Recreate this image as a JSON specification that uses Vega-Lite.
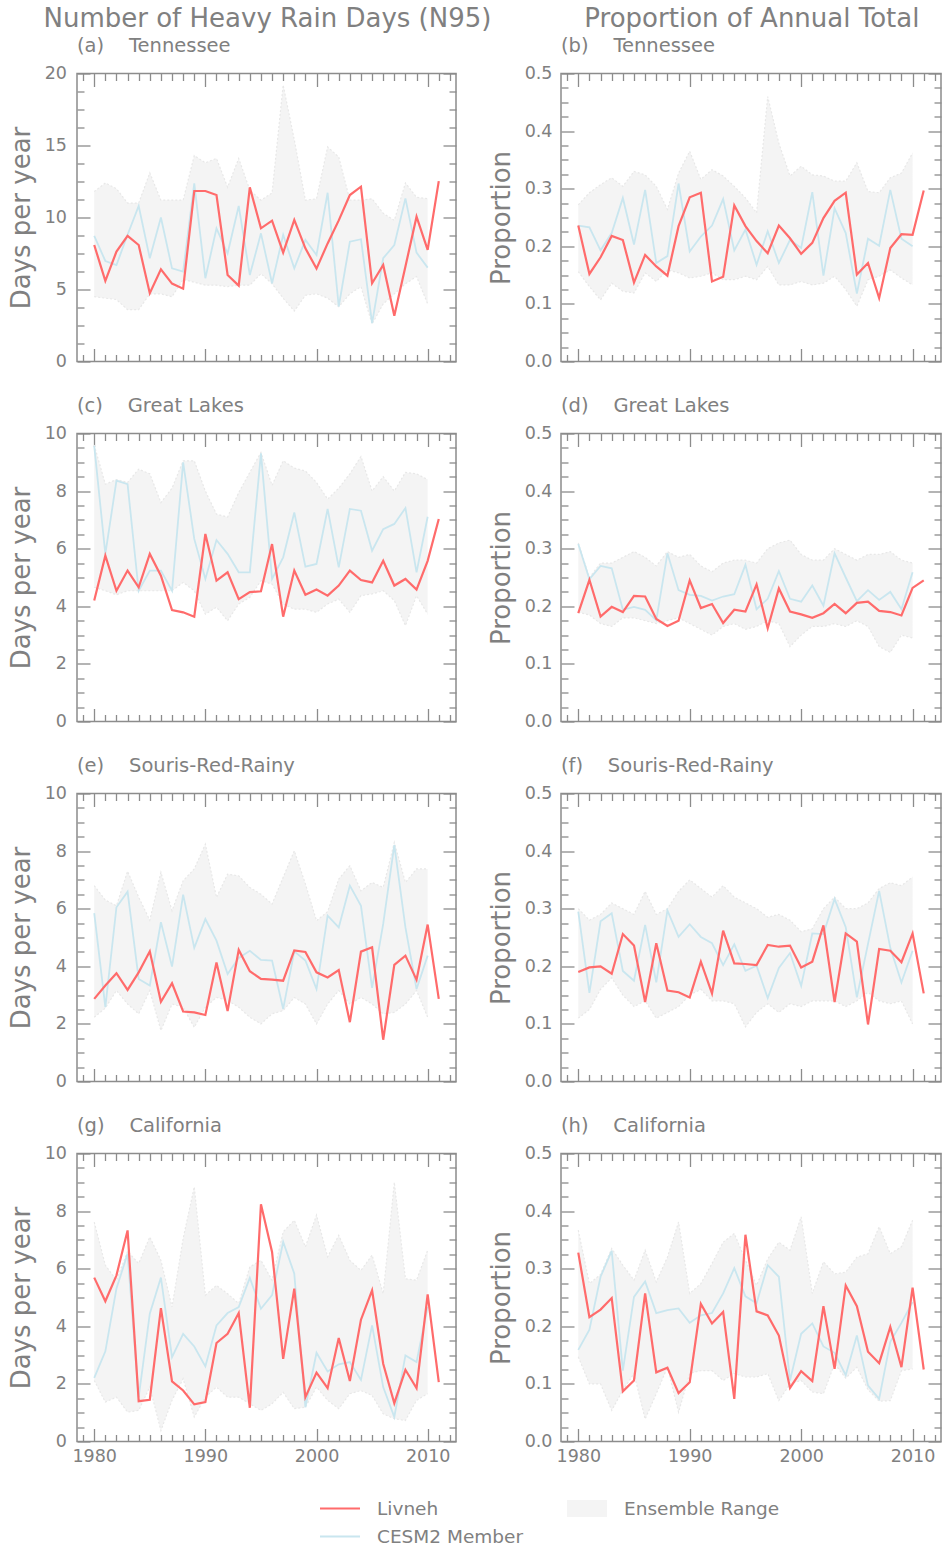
{
"$schema": "https://vega.github.io/schema/vega-lite/v6.json",
"padding": {"left": 7, "top": 5.5, "right": 0, "bottom": 0},
"config": {
  "font": "DejaVu Sans",
  "view": {"stroke": "#8c8c8c", "strokeWidth": 1.5},
  "axis": {"grid": false, "domain": false, "labelColor": "#808080", "titleColor": "#808080", "tickColor": "#8c8c8c", "tickWidth": 1.3, "labelFontSize": 17.5, "titleFontSize": 26, "titleFontWeight": "normal", "labelFlush": false, "labelOverlap": false, "zindex": 1}
},
"datasets": {
"a": [
{"yr":1980,"liv":8.09,"cesm":8.72,"lo":4.5,"hi":11.8},{"yr":1981,"liv":5.6,"cesm":6.98,"lo":4.4,"hi":12.4},{"yr":1982,"liv":7.63,"cesm":6.7,"lo":4.3,"hi":12.0},{"yr":1983,"liv":8.72,"cesm":8.8,"lo":3.6,"hi":11.0},{"yr":1984,"liv":8.09,"cesm":10.8,"lo":3.6,"hi":11.0},{"yr":1985,"liv":4.74,"cesm":7.17,"lo":4.7,"hi":13.1},{"yr":1986,"liv":6.4,"cesm":10.0,"lo":4.7,"hi":11.2},{"yr":1987,"liv":5.41,"cesm":6.47,"lo":4.5,"hi":11.2},{"yr":1988,"liv":5.06,"cesm":6.24,"lo":5.7,"hi":11.2},{"yr":1989,"liv":11.84,"cesm":12.37,"lo":5.5,"hi":14.3},{"yr":1990,"liv":11.84,"cesm":5.78,"lo":5.3,"hi":13.8},{"yr":1991,"liv":11.56,"cesm":9.25,"lo":5.3,"hi":14.1},{"yr":1992,"liv":6.01,"cesm":7.5,"lo":5.2,"hi":12.1},{"yr":1993,"liv":5.27,"cesm":10.8,"lo":5.3,"hi":14.1},{"yr":1994,"liv":12.09,"cesm":6.0,"lo":5.3,"hi":11.9},{"yr":1995,"liv":9.25,"cesm":8.9,"lo":6.1,"hi":11.2},{"yr":1996,"liv":9.78,"cesm":5.43,"lo":5.4,"hi":11.7},{"yr":1997,"liv":7.56,"cesm":8.8,"lo":4.4,"hi":19.2},{"yr":1998,"liv":9.83,"cesm":6.47,"lo":3.5,"hi":15.4},{"yr":1999,"liv":7.86,"cesm":8.44,"lo":4.6,"hi":11.2},{"yr":2000,"liv":6.45,"cesm":7.4,"lo":4.7,"hi":11.3},{"yr":2001,"liv":8.2,"cesm":11.72,"lo":4.4,"hi":14.9},{"yr":2002,"liv":9.8,"cesm":3.82,"lo":3.8,"hi":14.2},{"yr":2003,"liv":11.56,"cesm":8.32,"lo":4.7,"hi":11.2},{"yr":2004,"liv":12.14,"cesm":8.49,"lo":5.2,"hi":11.2},{"yr":2005,"liv":5.43,"cesm":2.66,"lo":2.6,"hi":11.3},{"yr":2006,"liv":6.7,"cesm":7.17,"lo":4.0,"hi":10.3},{"yr":2007,"liv":3.17,"cesm":8.09,"lo":4.7,"hi":9.8},{"yr":2008,"liv":6.6,"cesm":11.33,"lo":5.4,"hi":12.4},{"yr":2009,"liv":10.06,"cesm":7.56,"lo":5.9,"hi":11.4},{"yr":2010,"liv":7.75,"cesm":6.52,"lo":4.0,"hi":11.3},{"yr":2011,"liv":12.53}
],
"b": [
{"yr":1980,"liv":0.236,"cesm":0.236,"lo":0.156,"hi":0.272},{"yr":1981,"liv":0.152,"cesm":0.233,"lo":0.13,"hi":0.293},{"yr":1982,"liv":0.181,"cesm":0.193,"lo":0.107,"hi":0.307},{"yr":1983,"liv":0.218,"cesm":0.223,"lo":0.136,"hi":0.319},{"yr":1984,"liv":0.211,"cesm":0.284,"lo":0.122,"hi":0.304},{"yr":1985,"liv":0.137,"cesm":0.203,"lo":0.119,"hi":0.33},{"yr":1986,"liv":0.185,"cesm":0.298,"lo":0.154,"hi":0.324},{"yr":1987,"liv":0.165,"cesm":0.171,"lo":0.139,"hi":0.304},{"yr":1988,"liv":0.149,"cesm":0.183,"lo":0.159,"hi":0.264},{"yr":1989,"liv":0.235,"cesm":0.309,"lo":0.154,"hi":0.327},{"yr":1990,"liv":0.285,"cesm":0.191,"lo":0.145,"hi":0.365},{"yr":1991,"liv":0.293,"cesm":0.217,"lo":0.148,"hi":0.316},{"yr":1992,"liv":0.139,"cesm":0.236,"lo":0.154,"hi":0.333},{"yr":1993,"liv":0.147,"cesm":0.282,"lo":0.142,"hi":0.322},{"yr":1994,"liv":0.271,"cesm":0.193,"lo":0.142,"hi":0.304},{"yr":1995,"liv":0.235,"cesm":0.229,"lo":0.148,"hi":0.284},{"yr":1996,"liv":0.209,"cesm":0.168,"lo":0.142,"hi":0.258},{"yr":1997,"liv":0.188,"cesm":0.226,"lo":0.165,"hi":0.46},{"yr":1998,"liv":0.236,"cesm":0.171,"lo":0.133,"hi":0.379},{"yr":1999,"liv":0.214,"cesm":0.211,"lo":0.133,"hi":0.322},{"yr":2000,"liv":0.187,"cesm":0.197,"lo":0.139,"hi":0.339},{"yr":2001,"liv":0.206,"cesm":0.294,"lo":0.133,"hi":0.324},{"yr":2002,"liv":0.249,"cesm":0.149,"lo":0.136,"hi":0.322},{"yr":2003,"liv":0.279,"cesm":0.266,"lo":0.148,"hi":0.313},{"yr":2004,"liv":0.293,"cesm":0.223,"lo":0.125,"hi":0.313},{"yr":2005,"liv":0.151,"cesm":0.118,"lo":0.096,"hi":0.345},{"yr":2006,"liv":0.171,"cesm":0.213,"lo":0.142,"hi":0.295},{"yr":2007,"liv":0.11,"cesm":0.201,"lo":0.148,"hi":0.293},{"yr":2008,"liv":0.197,"cesm":0.298,"lo":0.159,"hi":0.319},{"yr":2009,"liv":0.221,"cesm":0.213,"lo":0.145,"hi":0.327},{"yr":2010,"liv":0.22,"cesm":0.2,"lo":0.133,"hi":0.362},{"yr":2011,"liv":0.297}
],
"c": [
{"yr":1980,"liv":4.2,"cesm":9.57,"lo":4.66,"hi":9.6},{"yr":1981,"liv":5.76,"cesm":5.82,"lo":4.54,"hi":8.24},{"yr":1982,"liv":4.54,"cesm":8.36,"lo":4.4,"hi":8.4},{"yr":1983,"liv":5.24,"cesm":8.24,"lo":4.54,"hi":8.3},{"yr":1984,"liv":4.66,"cesm":4.54,"lo":4.54,"hi":8.76},{"yr":1985,"liv":5.82,"cesm":5.24,"lo":4.54,"hi":8.6},{"yr":1986,"liv":5.06,"cesm":5.24,"lo":4.54,"hi":7.6},{"yr":1987,"liv":3.87,"cesm":4.54,"lo":4.54,"hi":8.1},{"yr":1988,"liv":3.79,"cesm":9.0,"lo":4.83,"hi":9.05},{"yr":1989,"liv":3.64,"cesm":6.34,"lo":4.54,"hi":9.05},{"yr":1990,"liv":6.51,"cesm":4.95,"lo":3.73,"hi":8.0},{"yr":1991,"liv":4.89,"cesm":6.3,"lo":3.97,"hi":7.2},{"yr":1992,"liv":5.18,"cesm":5.82,"lo":3.5,"hi":7.1},{"yr":1993,"liv":4.25,"cesm":5.18,"lo":4.08,"hi":7.95},{"yr":1994,"liv":4.49,"cesm":5.18,"lo":4.31,"hi":8.65},{"yr":1995,"liv":4.52,"cesm":9.31,"lo":4.89,"hi":9.34},{"yr":1996,"liv":6.16,"cesm":4.95,"lo":4.77,"hi":8.2},{"yr":1997,"liv":3.64,"cesm":5.7,"lo":4.08,"hi":9.05},{"yr":1998,"liv":5.24,"cesm":7.26,"lo":3.9,"hi":8.8},{"yr":1999,"liv":4.4,"cesm":5.38,"lo":3.9,"hi":8.7},{"yr":2000,"liv":4.58,"cesm":5.47,"lo":3.79,"hi":8.3},{"yr":2001,"liv":4.37,"cesm":7.38,"lo":4.08,"hi":7.72},{"yr":2002,"liv":4.72,"cesm":5.35,"lo":4.25,"hi":8.1},{"yr":2003,"liv":5.24,"cesm":7.38,"lo":3.79,"hi":8.6},{"yr":2004,"liv":4.91,"cesm":7.32,"lo":4.37,"hi":9.2},{"yr":2005,"liv":4.83,"cesm":5.93,"lo":4.43,"hi":8.0},{"yr":2006,"liv":5.58,"cesm":6.68,"lo":4.54,"hi":8.5},{"yr":2007,"liv":4.72,"cesm":6.86,"lo":4.2,"hi":8.0},{"yr":2008,"liv":4.95,"cesm":7.41,"lo":3.33,"hi":8.65},{"yr":2009,"liv":4.58,"cesm":5.18,"lo":4.37,"hi":8.6},{"yr":2010,"liv":5.58,"cesm":7.11,"lo":3.73,"hi":8.4},{"yr":2011,"liv":7.03}
],
"d": [
{"yr":1980,"liv":0.188,"cesm":0.308,"lo":0.19,"hi":0.31},{"yr":1981,"liv":0.246,"cesm":0.247,"lo":0.185,"hi":0.25},{"yr":1982,"liv":0.182,"cesm":0.27,"lo":0.17,"hi":0.275},{"yr":1983,"liv":0.199,"cesm":0.266,"lo":0.165,"hi":0.275},{"yr":1984,"liv":0.19,"cesm":0.194,"lo":0.18,"hi":0.285},{"yr":1985,"liv":0.218,"cesm":0.199,"lo":0.18,"hi":0.295},{"yr":1986,"liv":0.217,"cesm":0.194,"lo":0.175,"hi":0.285},{"yr":1987,"liv":0.178,"cesm":0.176,"lo":0.17,"hi":0.27},{"yr":1988,"liv":0.166,"cesm":0.292,"lo":0.175,"hi":0.295},{"yr":1989,"liv":0.175,"cesm":0.228,"lo":0.18,"hi":0.285},{"yr":1990,"liv":0.245,"cesm":0.22,"lo":0.17,"hi":0.29},{"yr":1991,"liv":0.197,"cesm":0.218,"lo":0.16,"hi":0.27},{"yr":1992,"liv":0.204,"cesm":0.21,"lo":0.15,"hi":0.26},{"yr":1993,"liv":0.171,"cesm":0.217,"lo":0.165,"hi":0.275},{"yr":1994,"liv":0.194,"cesm":0.221,"lo":0.17,"hi":0.28},{"yr":1995,"liv":0.191,"cesm":0.272,"lo":0.16,"hi":0.28},{"yr":1996,"liv":0.238,"cesm":0.195,"lo":0.165,"hi":0.275},{"yr":1997,"liv":0.162,"cesm":0.213,"lo":0.175,"hi":0.3},{"yr":1998,"liv":0.231,"cesm":0.261,"lo":0.17,"hi":0.31},{"yr":1999,"liv":0.191,"cesm":0.213,"lo":0.13,"hi":0.315},{"yr":2000,"liv":0.186,"cesm":0.208,"lo":0.15,"hi":0.29},{"yr":2001,"liv":0.18,"cesm":0.236,"lo":0.165,"hi":0.28},{"yr":2002,"liv":0.188,"cesm":0.201,"lo":0.165,"hi":0.28},{"yr":2003,"liv":0.204,"cesm":0.292,"lo":0.17,"hi":0.3},{"yr":2004,"liv":0.188,"cesm":0.25,"lo":0.165,"hi":0.29},{"yr":2005,"liv":0.206,"cesm":0.209,"lo":0.175,"hi":0.28},{"yr":2006,"liv":0.208,"cesm":0.228,"lo":0.165,"hi":0.29},{"yr":2007,"liv":0.192,"cesm":0.211,"lo":0.13,"hi":0.29},{"yr":2008,"liv":0.19,"cesm":0.225,"lo":0.12,"hi":0.295},{"yr":2009,"liv":0.184,"cesm":0.195,"lo":0.15,"hi":0.28},{"yr":2010,"liv":0.232,"cesm":0.259,"lo":0.145,"hi":0.275},{"yr":2011,"liv":0.245}
],
"e": [
{"yr":1980,"liv":2.87,"cesm":5.85,"lo":2.23,"hi":6.8},{"yr":1981,"liv":3.33,"cesm":2.58,"lo":2.55,"hi":6.3},{"yr":1982,"liv":3.76,"cesm":6.05,"lo":3.16,"hi":6.1},{"yr":1983,"liv":3.18,"cesm":6.59,"lo":2.69,"hi":7.3},{"yr":1984,"liv":3.79,"cesm":3.56,"lo":2.35,"hi":6.4},{"yr":1985,"liv":4.52,"cesm":3.33,"lo":3.16,"hi":5.6},{"yr":1986,"liv":2.77,"cesm":5.53,"lo":1.77,"hi":7.26},{"yr":1987,"liv":3.41,"cesm":3.99,"lo":2.69,"hi":5.93},{"yr":1988,"liv":2.43,"cesm":6.49,"lo":2.58,"hi":6.97},{"yr":1989,"liv":2.4,"cesm":4.64,"lo":1.88,"hi":7.38},{"yr":1990,"liv":2.31,"cesm":5.64,"lo":2.58,"hi":8.24},{"yr":1991,"liv":4.13,"cesm":4.89,"lo":2.92,"hi":6.39},{"yr":1992,"liv":2.45,"cesm":3.73,"lo":2.81,"hi":7.2},{"yr":1993,"liv":4.57,"cesm":4.29,"lo":2.58,"hi":7.14},{"yr":1994,"liv":3.83,"cesm":4.54,"lo":2.23,"hi":6.74},{"yr":1995,"liv":3.56,"cesm":4.22,"lo":2.0,"hi":6.5},{"yr":1996,"liv":3.54,"cesm":4.2,"lo":2.35,"hi":6.16},{"yr":1997,"liv":3.5,"cesm":2.52,"lo":2.46,"hi":7.09},{"yr":1998,"liv":4.55,"cesm":4.52,"lo":2.92,"hi":8.01},{"yr":1999,"liv":4.5,"cesm":4.2,"lo":2.69,"hi":6.86},{"yr":2000,"liv":3.79,"cesm":3.21,"lo":2.0,"hi":5.58},{"yr":2001,"liv":3.61,"cesm":5.76,"lo":2.69,"hi":5.9},{"yr":2002,"liv":3.87,"cesm":5.35,"lo":3.16,"hi":7.03},{"yr":2003,"liv":2.06,"cesm":6.8,"lo":2.69,"hi":7.49},{"yr":2004,"liv":4.51,"cesm":6.1,"lo":2.92,"hi":6.62},{"yr":2005,"liv":4.66,"cesm":3.25,"lo":2.69,"hi":6.91},{"yr":2006,"liv":1.45,"cesm":5.47,"lo":2.35,"hi":6.74},{"yr":2007,"liv":4.05,"cesm":8.21,"lo":2.4,"hi":8.3},{"yr":2008,"liv":4.37,"cesm":5.35,"lo":2.69,"hi":6.91},{"yr":2009,"liv":3.53,"cesm":3.21,"lo":3.16,"hi":7.38},{"yr":2010,"liv":5.45,"cesm":4.37,"lo":2.23,"hi":7.38},{"yr":2011,"liv":2.87}
],
"f": [
{"yr":1980,"liv":0.19,"cesm":0.295,"lo":0.11,"hi":0.3},{"yr":1981,"liv":0.198,"cesm":0.154,"lo":0.125,"hi":0.28},{"yr":1982,"liv":0.2,"cesm":0.278,"lo":0.16,"hi":0.29},{"yr":1983,"liv":0.187,"cesm":0.292,"lo":0.18,"hi":0.31},{"yr":1984,"liv":0.256,"cesm":0.192,"lo":0.15,"hi":0.3},{"yr":1985,"liv":0.236,"cesm":0.175,"lo":0.13,"hi":0.29},{"yr":1986,"liv":0.138,"cesm":0.272,"lo":0.14,"hi":0.33},{"yr":1987,"liv":0.24,"cesm":0.172,"lo":0.11,"hi":0.29},{"yr":1988,"liv":0.158,"cesm":0.297,"lo":0.12,"hi":0.3},{"yr":1989,"liv":0.155,"cesm":0.251,"lo":0.13,"hi":0.33},{"yr":1990,"liv":0.146,"cesm":0.273,"lo":0.15,"hi":0.35},{"yr":1991,"liv":0.208,"cesm":0.251,"lo":0.16,"hi":0.335},{"yr":1992,"liv":0.153,"cesm":0.24,"lo":0.14,"hi":0.32},{"yr":1993,"liv":0.262,"cesm":0.202,"lo":0.14,"hi":0.34},{"yr":1994,"liv":0.205,"cesm":0.238,"lo":0.135,"hi":0.32},{"yr":1995,"liv":0.204,"cesm":0.192,"lo":0.095,"hi":0.31},{"yr":1996,"liv":0.202,"cesm":0.201,"lo":0.12,"hi":0.3},{"yr":1997,"liv":0.237,"cesm":0.145,"lo":0.135,"hi":0.285},{"yr":1998,"liv":0.234,"cesm":0.197,"lo":0.12,"hi":0.29},{"yr":1999,"liv":0.236,"cesm":0.223,"lo":0.135,"hi":0.28},{"yr":2000,"liv":0.198,"cesm":0.166,"lo":0.13,"hi":0.26},{"yr":2001,"liv":0.208,"cesm":0.257,"lo":0.14,"hi":0.265},{"yr":2002,"liv":0.271,"cesm":0.256,"lo":0.14,"hi":0.3},{"yr":2003,"liv":0.138,"cesm":0.317,"lo":0.14,"hi":0.32},{"yr":2004,"liv":0.257,"cesm":0.268,"lo":0.13,"hi":0.3},{"yr":2005,"liv":0.243,"cesm":0.146,"lo":0.14,"hi":0.3},{"yr":2006,"liv":0.099,"cesm":0.239,"lo":0.155,"hi":0.31},{"yr":2007,"liv":0.23,"cesm":0.331,"lo":0.14,"hi":0.335},{"yr":2008,"liv":0.227,"cesm":0.232,"lo":0.135,"hi":0.345},{"yr":2009,"liv":0.207,"cesm":0.172,"lo":0.14,"hi":0.34},{"yr":2010,"liv":0.257,"cesm":0.227,"lo":0.1,"hi":0.355},{"yr":2011,"liv":0.153}
],
"g": [
{"yr":1980,"liv":5.69,"cesm":2.21,"lo":2.12,"hi":7.62},{"yr":1981,"liv":4.87,"cesm":3.13,"lo":1.37,"hi":6.12},{"yr":1982,"liv":5.77,"cesm":5.31,"lo":1.54,"hi":5.6},{"yr":1983,"liv":7.33,"cesm":6.52,"lo":1.02,"hi":6.6},{"yr":1984,"liv":1.4,"cesm":1.54,"lo":1.08,"hi":6.18},{"yr":1985,"liv":1.45,"cesm":4.44,"lo":1.89,"hi":7.1},{"yr":1986,"liv":4.63,"cesm":5.69,"lo":0.38,"hi":6.29},{"yr":1987,"liv":2.09,"cesm":2.93,"lo":1.43,"hi":4.67},{"yr":1988,"liv":1.77,"cesm":3.74,"lo":2.18,"hi":7.05},{"yr":1989,"liv":1.29,"cesm":3.3,"lo":0.85,"hi":8.84},{"yr":1990,"liv":1.37,"cesm":2.61,"lo":1.54,"hi":5.08},{"yr":1991,"liv":3.42,"cesm":4.03,"lo":1.89,"hi":5.42},{"yr":1992,"liv":3.74,"cesm":4.46,"lo":1.54,"hi":5.13},{"yr":1993,"liv":4.46,"cesm":4.67,"lo":1.54,"hi":4.79},{"yr":1994,"liv":1.17,"cesm":5.68,"lo":1.31,"hi":6.06},{"yr":1995,"liv":8.24,"cesm":4.61,"lo":1.08,"hi":6.29},{"yr":1996,"liv":6.58,"cesm":5.08,"lo":1.31,"hi":5.6},{"yr":1997,"liv":2.87,"cesm":6.93,"lo":1.71,"hi":7.28},{"yr":1998,"liv":5.31,"cesm":5.83,"lo":1.14,"hi":7.68},{"yr":1999,"liv":1.54,"cesm":1.19,"lo":1.19,"hi":6.76},{"yr":2000,"liv":2.39,"cesm":3.08,"lo":1.89,"hi":7.86},{"yr":2001,"liv":1.85,"cesm":2.43,"lo":1.43,"hi":6.41},{"yr":2002,"liv":3.59,"cesm":2.68,"lo":1.14,"hi":7.16},{"yr":2003,"liv":2.1,"cesm":2.76,"lo":1.66,"hi":6.29},{"yr":2004,"liv":4.23,"cesm":2.14,"lo":1.77,"hi":5.94},{"yr":2005,"liv":5.25,"cesm":4.03,"lo":1.6,"hi":6.47},{"yr":2006,"liv":2.7,"cesm":1.89,"lo":0.96,"hi":5.13},{"yr":2007,"liv":1.33,"cesm":0.85,"lo":0.79,"hi":9.0},{"yr":2008,"liv":2.49,"cesm":2.99,"lo":0.73,"hi":5.65},{"yr":2009,"liv":1.85,"cesm":2.76,"lo":1.43,"hi":5.6},{"yr":2010,"liv":5.11,"cesm":4.67,"lo":1.66,"hi":6.64},{"yr":2011,"liv":2.06}
],
"h": [
{"yr":1980,"liv":0.328,"cesm":0.159,"lo":0.147,"hi":0.367},{"yr":1981,"liv":0.216,"cesm":0.194,"lo":0.1,"hi":0.274},{"yr":1982,"liv":0.229,"cesm":0.286,"lo":0.1,"hi":0.29},{"yr":1983,"liv":0.249,"cesm":0.331,"lo":0.054,"hi":0.335},{"yr":1984,"liv":0.087,"cesm":0.123,"lo":0.089,"hi":0.306},{"yr":1985,"liv":0.106,"cesm":0.251,"lo":0.118,"hi":0.28},{"yr":1986,"liv":0.257,"cesm":0.278,"lo":0.039,"hi":0.332},{"yr":1987,"liv":0.12,"cesm":0.223,"lo":0.083,"hi":0.277},{"yr":1988,"liv":0.128,"cesm":0.228,"lo":0.129,"hi":0.32},{"yr":1989,"liv":0.084,"cesm":0.231,"lo":0.051,"hi":0.381},{"yr":1990,"liv":0.103,"cesm":0.206,"lo":0.118,"hi":0.257},{"yr":1991,"liv":0.239,"cesm":0.219,"lo":0.123,"hi":0.274},{"yr":1992,"liv":0.205,"cesm":0.223,"lo":0.123,"hi":0.309},{"yr":1993,"liv":0.225,"cesm":0.257,"lo":0.106,"hi":0.346},{"yr":1994,"liv":0.074,"cesm":0.301,"lo":0.118,"hi":0.361},{"yr":1995,"liv":0.359,"cesm":0.252,"lo":0.112,"hi":0.315},{"yr":1996,"liv":0.226,"cesm":0.24,"lo":0.112,"hi":0.271},{"yr":1997,"liv":0.219,"cesm":0.306,"lo":0.118,"hi":0.317},{"yr":1998,"liv":0.184,"cesm":0.286,"lo":0.071,"hi":0.346},{"yr":1999,"liv":0.093,"cesm":0.106,"lo":0.1,"hi":0.332},{"yr":2000,"liv":0.122,"cesm":0.187,"lo":0.106,"hi":0.39},{"yr":2001,"liv":0.105,"cesm":0.205,"lo":0.086,"hi":0.257},{"yr":2002,"liv":0.235,"cesm":0.165,"lo":0.083,"hi":0.312},{"yr":2003,"liv":0.126,"cesm":0.154,"lo":0.135,"hi":0.291},{"yr":2004,"liv":0.271,"cesm":0.115,"lo":0.11,"hi":0.294},{"yr":2005,"liv":0.235,"cesm":0.184,"lo":0.129,"hi":0.32},{"yr":2006,"liv":0.156,"cesm":0.097,"lo":0.09,"hi":0.326},{"yr":2007,"liv":0.136,"cesm":0.074,"lo":0.07,"hi":0.373},{"yr":2008,"liv":0.199,"cesm":0.173,"lo":0.071,"hi":0.326},{"yr":2009,"liv":0.129,"cesm":0.206,"lo":0.123,"hi":0.338},{"yr":2010,"liv":0.267,"cesm":0.242,"lo":0.126,"hi":0.384},{"yr":2011,"liv":0.125}
]
},
"spacing": -5,
"hconcat": [
{
 "title": {"text": "Number of Heavy Rain Days (N95)", "fontSize": 26, "fontWeight": "normal", "color": "#808080", "anchor": "middle", "dx": 35, "offset": -18, "baseline": "alphabetic"},
 "spacing": 23,
 "vconcat": [
  {"width": 379, "height": 288,
   "title": {"text": "(a)\u00a0\u00a0\u00a0\u00a0Tennessee", "anchor": "start", "frame": "group", "fontSize": 19.5, "fontWeight": "normal", "color": "#808080", "offset": -7, "baseline": "alphabetic"},
   "data": {"name": "a"},
   "resolve": {"axis": {"x": "independent", "y": "independent"}},
   "layer": [
    {"mark": {"type": "area", "color": "#f4f4f4"}, "encoding": {
      "x": {"field": "yr", "type": "quantitative", "scale": {"domain": [1978.45, 2012.55], "nice": false, "zero": false}, "axis": {"orient": "bottom", "values": [1980,1990,2000,2010], "tickSize": -13, "labels": false, "title": null}},
      "y": {"field": "lo", "type": "quantitative", "scale": {"domain": [0, 20], "nice": false}, "axis": {"orient": "left", "values": [0,5,10,15,20], "tickSize": -13, "labelPadding": 23.5, "title": "Days per year", "titlePadding": 10}},
      "y2": {"field": "hi"},
      "fill": {"datum": "Ensemble Range", "type": "nominal", "scale": {"domain": ["Ensemble Range"], "range": ["#f4f4f4"]},
        "legend": {"orient": "none", "legendX": 499, "legendY": 1424, "title": null, "padding": 0, "symbolType": "M-2,-0.85H2V0.85H-2Z", "symbolSize": 400, "labelFontSize": 18.5, "labelColor": "#808080", "labelFont": "DejaVu Sans", "labelOffset": 26}}}},
    {"mark": {"type": "line", "color": "#e8e8e8", "strokeWidth": 1.2, "strokeDash": [2, 2]}, "encoding": {
      "x": {"field": "yr", "type": "quantitative", "scale": {"domain": [1978.45, 2012.55], "nice": false, "zero": false}, "axis": {"orient": "bottom", "values": [1979,1981,1982,1983,1984,1985,1986,1987,1988,1989,1991,1992,1993,1994,1995,1996,1997,1998,1999,2001,2002,2003,2004,2005,2006,2007,2008,2009,2011,2012], "tickSize": -7, "labels": false, "title": null}},
      "y": {"field": "lo", "type": "quantitative", "scale": {"domain": [0, 20], "nice": false}, "axis": {"orient": "left", "values": [1.25,2.5,3.75,6.25,7.5,8.75,11.25,12.5,13.75,16.25,17.5,18.75], "tickSize": -7, "labels": false, "title": null}}}},
    {"mark": {"type": "line", "color": "#e8e8e8", "strokeWidth": 1.2, "strokeDash": [2, 2]}, "encoding": {
      "x": {"field": "yr", "type": "quantitative", "scale": {"domain": [1978.45, 2012.55], "nice": false, "zero": false}, "axis": {"orient": "top", "values": [1980,1990,2000,2010], "tickSize": -13, "labels": false, "title": null}},
      "y": {"field": "hi", "type": "quantitative", "scale": {"domain": [0, 20], "nice": false}, "axis": {"orient": "right", "values": [0,5,10,15,20], "tickSize": -13, "labels": false, "title": null}}}},
    {"mark": {"type": "line", "color": "#c9e6ef", "strokeWidth": 1.8}, "encoding": {
      "x": {"field": "yr", "type": "quantitative", "scale": {"domain": [1978.45, 2012.55], "nice": false, "zero": false}, "axis": {"orient": "top", "values": [1979,1981,1982,1983,1984,1985,1986,1987,1988,1989,1991,1992,1993,1994,1995,1996,1997,1998,1999,2001,2002,2003,2004,2005,2006,2007,2008,2009,2011,2012], "tickSize": -7, "labels": false, "title": null}},
      "y": {"field": "cesm", "type": "quantitative", "scale": {"domain": [0, 20], "nice": false}, "axis": {"orient": "right", "values": [1.25,2.5,3.75,6.25,7.5,8.75,11.25,12.5,13.75,16.25,17.5,18.75], "tickSize": -7, "labels": false, "title": null}},
      "color": {"datum": "CESM2 Member", "type": "nominal", "scale": {"domain": ["Livneh", "CESM2 Member"], "range": ["#ff6b6b", "#c9e6ef"]},
        "legend": {"orient": "none", "legendX": 252, "legendY": 1424, "direction": "vertical", "title": null, "padding": 0, "symbolType": "M-2,0H2", "symbolSize": 400, "symbolStrokeWidth": 2, "labelFontSize": 18.5, "labelColor": "#808080", "labelFont": "DejaVu Sans", "labelOffset": 26, "rowPadding": 7}}}},
    {"mark": {"type": "line", "color": "#ff6b6b", "strokeWidth": 2.2}, "encoding": {
      "x": {"field": "yr", "type": "quantitative", "scale": {"domain": [1978.45, 2012.55], "nice": false, "zero": false}, "axis": null},
      "y": {"field": "liv", "type": "quantitative", "scale": {"domain": [0, 20], "nice": false}, "axis": null},
      "color": {"datum": "Livneh", "type": "nominal", "scale": {"domain": ["Livneh", "CESM2 Member"], "range": ["#ff6b6b", "#c9e6ef"]},
        "legend": {"orient": "none", "legendX": 252, "legendY": 1424, "direction": "vertical", "title": null, "padding": 0, "symbolType": "M-2,0H2", "symbolSize": 400, "symbolStrokeWidth": 2, "labelFontSize": 18.5, "labelColor": "#808080", "labelFont": "DejaVu Sans", "labelOffset": 26, "rowPadding": 7}}}}
   ]},
  {"width": 379, "height": 288,
   "title": {"text": "(c)\u00a0\u00a0\u00a0\u00a0Great Lakes", "anchor": "start", "frame": "group", "fontSize": 19.5, "fontWeight": "normal", "color": "#808080", "offset": -7, "baseline": "alphabetic"},
   "data": {"name": "c"},
   "resolve": {"axis": {"x": "independent", "y": "independent"}},
   "layer": [
    {"mark": {"type": "area", "color": "#f4f4f4"}, "encoding": {
      "x": {"field": "yr", "type": "quantitative", "scale": {"domain": [1978.45, 2012.55], "nice": false, "zero": false}, "axis": {"orient": "bottom", "values": [1980,1990,2000,2010], "tickSize": -13, "labels": false, "title": null}},
      "y": {"field": "lo", "type": "quantitative", "scale": {"domain": [0, 10], "nice": false}, "axis": {"orient": "left", "values": [0,2,4,6,8,10], "tickSize": -13, "labelPadding": 23.5, "title": "Days per year", "titlePadding": 10}},
      "y2": {"field": "hi"}}},
    {"mark": {"type": "line", "color": "#e8e8e8", "strokeWidth": 1.2, "strokeDash": [2, 2]}, "encoding": {
      "x": {"field": "yr", "type": "quantitative", "scale": {"domain": [1978.45, 2012.55], "nice": false, "zero": false}, "axis": {"orient": "bottom", "values": [1979,1981,1982,1983,1984,1985,1986,1987,1988,1989,1991,1992,1993,1994,1995,1996,1997,1998,1999,2001,2002,2003,2004,2005,2006,2007,2008,2009,2011,2012], "tickSize": -7, "labels": false, "title": null}},
      "y": {"field": "lo", "type": "quantitative", "scale": {"domain": [0, 10], "nice": false}, "axis": {"orient": "left", "values": [0.5,1,1.5,2.5,3,3.5,4.5,5,5.5,6.5,7,7.5,8.5,9,9.5], "tickSize": -7, "labels": false, "title": null}}}},
    {"mark": {"type": "line", "color": "#e8e8e8", "strokeWidth": 1.2, "strokeDash": [2, 2]}, "encoding": {
      "x": {"field": "yr", "type": "quantitative", "scale": {"domain": [1978.45, 2012.55], "nice": false, "zero": false}, "axis": {"orient": "top", "values": [1980,1990,2000,2010], "tickSize": -13, "labels": false, "title": null}},
      "y": {"field": "hi", "type": "quantitative", "scale": {"domain": [0, 10], "nice": false}, "axis": {"orient": "right", "values": [0,2,4,6,8,10], "tickSize": -13, "labels": false, "title": null}}}},
    {"mark": {"type": "line", "color": "#c9e6ef", "strokeWidth": 1.8}, "encoding": {
      "x": {"field": "yr", "type": "quantitative", "scale": {"domain": [1978.45, 2012.55], "nice": false, "zero": false}, "axis": {"orient": "top", "values": [1979,1981,1982,1983,1984,1985,1986,1987,1988,1989,1991,1992,1993,1994,1995,1996,1997,1998,1999,2001,2002,2003,2004,2005,2006,2007,2008,2009,2011,2012], "tickSize": -7, "labels": false, "title": null}},
      "y": {"field": "cesm", "type": "quantitative", "scale": {"domain": [0, 10], "nice": false}, "axis": {"orient": "right", "values": [0.5,1,1.5,2.5,3,3.5,4.5,5,5.5,6.5,7,7.5,8.5,9,9.5], "tickSize": -7, "labels": false, "title": null}}}},
    {"mark": {"type": "line", "color": "#ff6b6b", "strokeWidth": 2.2}, "encoding": {
      "x": {"field": "yr", "type": "quantitative", "scale": {"domain": [1978.45, 2012.55], "nice": false, "zero": false}, "axis": null},
      "y": {"field": "liv", "type": "quantitative", "scale": {"domain": [0, 10], "nice": false}, "axis": null}}}
   ]},
  {"width": 379, "height": 288,
   "title": {"text": "(e)\u00a0\u00a0\u00a0\u00a0Souris-Red-Rainy", "anchor": "start", "frame": "group", "fontSize": 19.5, "fontWeight": "normal", "color": "#808080", "offset": -7, "baseline": "alphabetic"},
   "data": {"name": "e"},
   "resolve": {"axis": {"x": "independent", "y": "independent"}},
   "layer": [
    {"mark": {"type": "area", "color": "#f4f4f4"}, "encoding": {
      "x": {"field": "yr", "type": "quantitative", "scale": {"domain": [1978.45, 2012.55], "nice": false, "zero": false}, "axis": {"orient": "bottom", "values": [1980,1990,2000,2010], "tickSize": -13, "labels": false, "title": null}},
      "y": {"field": "lo", "type": "quantitative", "scale": {"domain": [0, 10], "nice": false}, "axis": {"orient": "left", "values": [0,2,4,6,8,10], "tickSize": -13, "labelPadding": 23.5, "title": "Days per year", "titlePadding": 10}},
      "y2": {"field": "hi"}}},
    {"mark": {"type": "line", "color": "#e8e8e8", "strokeWidth": 1.2, "strokeDash": [2, 2]}, "encoding": {
      "x": {"field": "yr", "type": "quantitative", "scale": {"domain": [1978.45, 2012.55], "nice": false, "zero": false}, "axis": {"orient": "bottom", "values": [1979,1981,1982,1983,1984,1985,1986,1987,1988,1989,1991,1992,1993,1994,1995,1996,1997,1998,1999,2001,2002,2003,2004,2005,2006,2007,2008,2009,2011,2012], "tickSize": -7, "labels": false, "title": null}},
      "y": {"field": "lo", "type": "quantitative", "scale": {"domain": [0, 10], "nice": false}, "axis": {"orient": "left", "values": [0.5,1,1.5,2.5,3,3.5,4.5,5,5.5,6.5,7,7.5,8.5,9,9.5], "tickSize": -7, "labels": false, "title": null}}}},
    {"mark": {"type": "line", "color": "#e8e8e8", "strokeWidth": 1.2, "strokeDash": [2, 2]}, "encoding": {
      "x": {"field": "yr", "type": "quantitative", "scale": {"domain": [1978.45, 2012.55], "nice": false, "zero": false}, "axis": {"orient": "top", "values": [1980,1990,2000,2010], "tickSize": -13, "labels": false, "title": null}},
      "y": {"field": "hi", "type": "quantitative", "scale": {"domain": [0, 10], "nice": false}, "axis": {"orient": "right", "values": [0,2,4,6,8,10], "tickSize": -13, "labels": false, "title": null}}}},
    {"mark": {"type": "line", "color": "#c9e6ef", "strokeWidth": 1.8}, "encoding": {
      "x": {"field": "yr", "type": "quantitative", "scale": {"domain": [1978.45, 2012.55], "nice": false, "zero": false}, "axis": {"orient": "top", "values": [1979,1981,1982,1983,1984,1985,1986,1987,1988,1989,1991,1992,1993,1994,1995,1996,1997,1998,1999,2001,2002,2003,2004,2005,2006,2007,2008,2009,2011,2012], "tickSize": -7, "labels": false, "title": null}},
      "y": {"field": "cesm", "type": "quantitative", "scale": {"domain": [0, 10], "nice": false}, "axis": {"orient": "right", "values": [0.5,1,1.5,2.5,3,3.5,4.5,5,5.5,6.5,7,7.5,8.5,9,9.5], "tickSize": -7, "labels": false, "title": null}}}},
    {"mark": {"type": "line", "color": "#ff6b6b", "strokeWidth": 2.2}, "encoding": {
      "x": {"field": "yr", "type": "quantitative", "scale": {"domain": [1978.45, 2012.55], "nice": false, "zero": false}, "axis": null},
      "y": {"field": "liv", "type": "quantitative", "scale": {"domain": [0, 10], "nice": false}, "axis": null}}}
   ]},
  {"width": 379, "height": 288,
   "title": {"text": "(g)\u00a0\u00a0\u00a0\u00a0California", "anchor": "start", "frame": "group", "fontSize": 19.5, "fontWeight": "normal", "color": "#808080", "offset": -7, "baseline": "alphabetic"},
   "data": {"name": "g"},
   "resolve": {"axis": {"x": "independent", "y": "independent"}},
   "layer": [
    {"mark": {"type": "area", "color": "#f4f4f4"}, "encoding": {
      "x": {"field": "yr", "type": "quantitative", "scale": {"domain": [1978.45, 2012.55], "nice": false, "zero": false}, "axis": {"orient": "bottom", "values": [1980,1990,2000,2010], "format": "d", "tickSize": -13, "labelPadding": 18.5, "title": null}},
      "y": {"field": "lo", "type": "quantitative", "scale": {"domain": [0, 10], "nice": false}, "axis": {"orient": "left", "values": [0,2,4,6,8,10], "tickSize": -13, "labelPadding": 23.5, "title": "Days per year", "titlePadding": 10}},
      "y2": {"field": "hi"}}},
    {"mark": {"type": "line", "color": "#e8e8e8", "strokeWidth": 1.2, "strokeDash": [2, 2]}, "encoding": {
      "x": {"field": "yr", "type": "quantitative", "scale": {"domain": [1978.45, 2012.55], "nice": false, "zero": false}, "axis": {"orient": "bottom", "values": [1979,1981,1982,1983,1984,1985,1986,1987,1988,1989,1991,1992,1993,1994,1995,1996,1997,1998,1999,2001,2002,2003,2004,2005,2006,2007,2008,2009,2011,2012], "tickSize": -7, "labels": false, "title": null}},
      "y": {"field": "lo", "type": "quantitative", "scale": {"domain": [0, 10], "nice": false}, "axis": {"orient": "left", "values": [0.5,1,1.5,2.5,3,3.5,4.5,5,5.5,6.5,7,7.5,8.5,9,9.5], "tickSize": -7, "labels": false, "title": null}}}},
    {"mark": {"type": "line", "color": "#e8e8e8", "strokeWidth": 1.2, "strokeDash": [2, 2]}, "encoding": {
      "x": {"field": "yr", "type": "quantitative", "scale": {"domain": [1978.45, 2012.55], "nice": false, "zero": false}, "axis": {"orient": "top", "values": [1980,1990,2000,2010], "tickSize": -13, "labels": false, "title": null}},
      "y": {"field": "hi", "type": "quantitative", "scale": {"domain": [0, 10], "nice": false}, "axis": {"orient": "right", "values": [0,2,4,6,8,10], "tickSize": -13, "labels": false, "title": null}}}},
    {"mark": {"type": "line", "color": "#c9e6ef", "strokeWidth": 1.8}, "encoding": {
      "x": {"field": "yr", "type": "quantitative", "scale": {"domain": [1978.45, 2012.55], "nice": false, "zero": false}, "axis": {"orient": "top", "values": [1979,1981,1982,1983,1984,1985,1986,1987,1988,1989,1991,1992,1993,1994,1995,1996,1997,1998,1999,2001,2002,2003,2004,2005,2006,2007,2008,2009,2011,2012], "tickSize": -7, "labels": false, "title": null}},
      "y": {"field": "cesm", "type": "quantitative", "scale": {"domain": [0, 10], "nice": false}, "axis": {"orient": "right", "values": [0.5,1,1.5,2.5,3,3.5,4.5,5,5.5,6.5,7,7.5,8.5,9,9.5], "tickSize": -7, "labels": false, "title": null}}}},
    {"mark": {"type": "line", "color": "#ff6b6b", "strokeWidth": 2.2}, "encoding": {
      "x": {"field": "yr", "type": "quantitative", "scale": {"domain": [1978.45, 2012.55], "nice": false, "zero": false}, "axis": null},
      "y": {"field": "liv", "type": "quantitative", "scale": {"domain": [0, 10], "nice": false}, "axis": null}}}
   ]}
 ]
},
{
 "title": {"text": "Proportion of Annual Total", "fontSize": 26, "fontWeight": "normal", "color": "#808080", "anchor": "middle", "dx": 37, "offset": -18, "baseline": "alphabetic"},
 "spacing": 23,
 "vconcat": [
  {"width": 380, "height": 288,
   "title": {"text": "(b)\u00a0\u00a0\u00a0\u00a0Tennessee", "anchor": "start", "frame": "group", "fontSize": 19.5, "fontWeight": "normal", "color": "#808080", "offset": -7, "baseline": "alphabetic"},
   "data": {"name": "b"},
   "resolve": {"axis": {"x": "independent", "y": "independent"}},
   "layer": [
    {"mark": {"type": "area", "color": "#f4f4f4"}, "encoding": {
      "x": {"field": "yr", "type": "quantitative", "scale": {"domain": [1978.45, 2012.55], "nice": false, "zero": false}, "axis": {"orient": "bottom", "values": [1980,1990,2000,2010], "tickSize": -13, "labels": false, "title": null}},
      "y": {"field": "lo", "type": "quantitative", "scale": {"domain": [0, 0.5], "nice": false}, "axis": {"orient": "left", "values": [0,0.1,0.2,0.3,0.4,0.5], "format": ".1f", "tickSize": -13, "labelPadding": 22, "title": "Proportion", "titlePadding": 10}},
      "y2": {"field": "hi"}}},
    {"mark": {"type": "line", "color": "#e8e8e8", "strokeWidth": 1.2, "strokeDash": [2, 2]}, "encoding": {
      "x": {"field": "yr", "type": "quantitative", "scale": {"domain": [1978.45, 2012.55], "nice": false, "zero": false}, "axis": {"orient": "bottom", "values": [1979,1981,1982,1983,1984,1985,1986,1987,1988,1989,1991,1992,1993,1994,1995,1996,1997,1998,1999,2001,2002,2003,2004,2005,2006,2007,2008,2009,2011,2012], "tickSize": -7, "labels": false, "title": null}},
      "y": {"field": "lo", "type": "quantitative", "scale": {"domain": [0, 0.5], "nice": false}, "axis": {"orient": "left", "values": [0.025,0.05,0.075,0.125,0.15,0.175,0.225,0.25,0.275,0.325,0.35,0.375,0.425,0.45,0.475], "tickSize": -7, "labels": false, "title": null}}}},
    {"mark": {"type": "line", "color": "#e8e8e8", "strokeWidth": 1.2, "strokeDash": [2, 2]}, "encoding": {
      "x": {"field": "yr", "type": "quantitative", "scale": {"domain": [1978.45, 2012.55], "nice": false, "zero": false}, "axis": {"orient": "top", "values": [1980,1990,2000,2010], "tickSize": -13, "labels": false, "title": null}},
      "y": {"field": "hi", "type": "quantitative", "scale": {"domain": [0, 0.5], "nice": false}, "axis": {"orient": "right", "values": [0,0.1,0.2,0.3,0.4,0.5], "tickSize": -13, "labels": false, "title": null}}}},
    {"mark": {"type": "line", "color": "#c9e6ef", "strokeWidth": 1.8}, "encoding": {
      "x": {"field": "yr", "type": "quantitative", "scale": {"domain": [1978.45, 2012.55], "nice": false, "zero": false}, "axis": {"orient": "top", "values": [1979,1981,1982,1983,1984,1985,1986,1987,1988,1989,1991,1992,1993,1994,1995,1996,1997,1998,1999,2001,2002,2003,2004,2005,2006,2007,2008,2009,2011,2012], "tickSize": -7, "labels": false, "title": null}},
      "y": {"field": "cesm", "type": "quantitative", "scale": {"domain": [0, 0.5], "nice": false}, "axis": {"orient": "right", "values": [0.025,0.05,0.075,0.125,0.15,0.175,0.225,0.25,0.275,0.325,0.35,0.375,0.425,0.45,0.475], "tickSize": -7, "labels": false, "title": null}}}},
    {"mark": {"type": "line", "color": "#ff6b6b", "strokeWidth": 2.2}, "encoding": {
      "x": {"field": "yr", "type": "quantitative", "scale": {"domain": [1978.45, 2012.55], "nice": false, "zero": false}, "axis": null},
      "y": {"field": "liv", "type": "quantitative", "scale": {"domain": [0, 0.5], "nice": false}, "axis": null}}}
   ]},
  {"width": 380, "height": 288,
   "title": {"text": "(d)\u00a0\u00a0\u00a0\u00a0Great Lakes", "anchor": "start", "frame": "group", "fontSize": 19.5, "fontWeight": "normal", "color": "#808080", "offset": -7, "baseline": "alphabetic"},
   "data": {"name": "d"},
   "resolve": {"axis": {"x": "independent", "y": "independent"}},
   "layer": [
    {"mark": {"type": "area", "color": "#f4f4f4"}, "encoding": {
      "x": {"field": "yr", "type": "quantitative", "scale": {"domain": [1978.45, 2012.55], "nice": false, "zero": false}, "axis": {"orient": "bottom", "values": [1980,1990,2000,2010], "tickSize": -13, "labels": false, "title": null}},
      "y": {"field": "lo", "type": "quantitative", "scale": {"domain": [0, 0.5], "nice": false}, "axis": {"orient": "left", "values": [0,0.1,0.2,0.3,0.4,0.5], "format": ".1f", "tickSize": -13, "labelPadding": 22, "title": "Proportion", "titlePadding": 10}},
      "y2": {"field": "hi"}}},
    {"mark": {"type": "line", "color": "#e8e8e8", "strokeWidth": 1.2, "strokeDash": [2, 2]}, "encoding": {
      "x": {"field": "yr", "type": "quantitative", "scale": {"domain": [1978.45, 2012.55], "nice": false, "zero": false}, "axis": {"orient": "bottom", "values": [1979,1981,1982,1983,1984,1985,1986,1987,1988,1989,1991,1992,1993,1994,1995,1996,1997,1998,1999,2001,2002,2003,2004,2005,2006,2007,2008,2009,2011,2012], "tickSize": -7, "labels": false, "title": null}},
      "y": {"field": "lo", "type": "quantitative", "scale": {"domain": [0, 0.5], "nice": false}, "axis": {"orient": "left", "values": [0.025,0.05,0.075,0.125,0.15,0.175,0.225,0.25,0.275,0.325,0.35,0.375,0.425,0.45,0.475], "tickSize": -7, "labels": false, "title": null}}}},
    {"mark": {"type": "line", "color": "#e8e8e8", "strokeWidth": 1.2, "strokeDash": [2, 2]}, "encoding": {
      "x": {"field": "yr", "type": "quantitative", "scale": {"domain": [1978.45, 2012.55], "nice": false, "zero": false}, "axis": {"orient": "top", "values": [1980,1990,2000,2010], "tickSize": -13, "labels": false, "title": null}},
      "y": {"field": "hi", "type": "quantitative", "scale": {"domain": [0, 0.5], "nice": false}, "axis": {"orient": "right", "values": [0,0.1,0.2,0.3,0.4,0.5], "tickSize": -13, "labels": false, "title": null}}}},
    {"mark": {"type": "line", "color": "#c9e6ef", "strokeWidth": 1.8}, "encoding": {
      "x": {"field": "yr", "type": "quantitative", "scale": {"domain": [1978.45, 2012.55], "nice": false, "zero": false}, "axis": {"orient": "top", "values": [1979,1981,1982,1983,1984,1985,1986,1987,1988,1989,1991,1992,1993,1994,1995,1996,1997,1998,1999,2001,2002,2003,2004,2005,2006,2007,2008,2009,2011,2012], "tickSize": -7, "labels": false, "title": null}},
      "y": {"field": "cesm", "type": "quantitative", "scale": {"domain": [0, 0.5], "nice": false}, "axis": {"orient": "right", "values": [0.025,0.05,0.075,0.125,0.15,0.175,0.225,0.25,0.275,0.325,0.35,0.375,0.425,0.45,0.475], "tickSize": -7, "labels": false, "title": null}}}},
    {"mark": {"type": "line", "color": "#ff6b6b", "strokeWidth": 2.2}, "encoding": {
      "x": {"field": "yr", "type": "quantitative", "scale": {"domain": [1978.45, 2012.55], "nice": false, "zero": false}, "axis": null},
      "y": {"field": "liv", "type": "quantitative", "scale": {"domain": [0, 0.5], "nice": false}, "axis": null}}}
   ]},
  {"width": 380, "height": 288,
   "title": {"text": "(f)\u00a0\u00a0\u00a0\u00a0Souris-Red-Rainy", "anchor": "start", "frame": "group", "fontSize": 19.5, "fontWeight": "normal", "color": "#808080", "offset": -7, "baseline": "alphabetic"},
   "data": {"name": "f"},
   "resolve": {"axis": {"x": "independent", "y": "independent"}},
   "layer": [
    {"mark": {"type": "area", "color": "#f4f4f4"}, "encoding": {
      "x": {"field": "yr", "type": "quantitative", "scale": {"domain": [1978.45, 2012.55], "nice": false, "zero": false}, "axis": {"orient": "bottom", "values": [1980,1990,2000,2010], "tickSize": -13, "labels": false, "title": null}},
      "y": {"field": "lo", "type": "quantitative", "scale": {"domain": [0, 0.5], "nice": false}, "axis": {"orient": "left", "values": [0,0.1,0.2,0.3,0.4,0.5], "format": ".1f", "tickSize": -13, "labelPadding": 22, "title": "Proportion", "titlePadding": 10}},
      "y2": {"field": "hi"}}},
    {"mark": {"type": "line", "color": "#e8e8e8", "strokeWidth": 1.2, "strokeDash": [2, 2]}, "encoding": {
      "x": {"field": "yr", "type": "quantitative", "scale": {"domain": [1978.45, 2012.55], "nice": false, "zero": false}, "axis": {"orient": "bottom", "values": [1979,1981,1982,1983,1984,1985,1986,1987,1988,1989,1991,1992,1993,1994,1995,1996,1997,1998,1999,2001,2002,2003,2004,2005,2006,2007,2008,2009,2011,2012], "tickSize": -7, "labels": false, "title": null}},
      "y": {"field": "lo", "type": "quantitative", "scale": {"domain": [0, 0.5], "nice": false}, "axis": {"orient": "left", "values": [0.025,0.05,0.075,0.125,0.15,0.175,0.225,0.25,0.275,0.325,0.35,0.375,0.425,0.45,0.475], "tickSize": -7, "labels": false, "title": null}}}},
    {"mark": {"type": "line", "color": "#e8e8e8", "strokeWidth": 1.2, "strokeDash": [2, 2]}, "encoding": {
      "x": {"field": "yr", "type": "quantitative", "scale": {"domain": [1978.45, 2012.55], "nice": false, "zero": false}, "axis": {"orient": "top", "values": [1980,1990,2000,2010], "tickSize": -13, "labels": false, "title": null}},
      "y": {"field": "hi", "type": "quantitative", "scale": {"domain": [0, 0.5], "nice": false}, "axis": {"orient": "right", "values": [0,0.1,0.2,0.3,0.4,0.5], "tickSize": -13, "labels": false, "title": null}}}},
    {"mark": {"type": "line", "color": "#c9e6ef", "strokeWidth": 1.8}, "encoding": {
      "x": {"field": "yr", "type": "quantitative", "scale": {"domain": [1978.45, 2012.55], "nice": false, "zero": false}, "axis": {"orient": "top", "values": [1979,1981,1982,1983,1984,1985,1986,1987,1988,1989,1991,1992,1993,1994,1995,1996,1997,1998,1999,2001,2002,2003,2004,2005,2006,2007,2008,2009,2011,2012], "tickSize": -7, "labels": false, "title": null}},
      "y": {"field": "cesm", "type": "quantitative", "scale": {"domain": [0, 0.5], "nice": false}, "axis": {"orient": "right", "values": [0.025,0.05,0.075,0.125,0.15,0.175,0.225,0.25,0.275,0.325,0.35,0.375,0.425,0.45,0.475], "tickSize": -7, "labels": false, "title": null}}}},
    {"mark": {"type": "line", "color": "#ff6b6b", "strokeWidth": 2.2}, "encoding": {
      "x": {"field": "yr", "type": "quantitative", "scale": {"domain": [1978.45, 2012.55], "nice": false, "zero": false}, "axis": null},
      "y": {"field": "liv", "type": "quantitative", "scale": {"domain": [0, 0.5], "nice": false}, "axis": null}}}
   ]},
  {"width": 380, "height": 288,
   "title": {"text": "(h)\u00a0\u00a0\u00a0\u00a0California", "anchor": "start", "frame": "group", "fontSize": 19.5, "fontWeight": "normal", "color": "#808080", "offset": -7, "baseline": "alphabetic"},
   "data": {"name": "h"},
   "resolve": {"axis": {"x": "independent", "y": "independent"}},
   "layer": [
    {"mark": {"type": "area", "color": "#f4f4f4"}, "encoding": {
      "x": {"field": "yr", "type": "quantitative", "scale": {"domain": [1978.45, 2012.55], "nice": false, "zero": false}, "axis": {"orient": "bottom", "values": [1980,1990,2000,2010], "format": "d", "tickSize": -13, "labelPadding": 18.5, "title": null}},
      "y": {"field": "lo", "type": "quantitative", "scale": {"domain": [0, 0.5], "nice": false}, "axis": {"orient": "left", "values": [0,0.1,0.2,0.3,0.4,0.5], "format": ".1f", "tickSize": -13, "labelPadding": 22, "title": "Proportion", "titlePadding": 10}},
      "y2": {"field": "hi"}}},
    {"mark": {"type": "line", "color": "#e8e8e8", "strokeWidth": 1.2, "strokeDash": [2, 2]}, "encoding": {
      "x": {"field": "yr", "type": "quantitative", "scale": {"domain": [1978.45, 2012.55], "nice": false, "zero": false}, "axis": {"orient": "bottom", "values": [1979,1981,1982,1983,1984,1985,1986,1987,1988,1989,1991,1992,1993,1994,1995,1996,1997,1998,1999,2001,2002,2003,2004,2005,2006,2007,2008,2009,2011,2012], "tickSize": -7, "labels": false, "title": null}},
      "y": {"field": "lo", "type": "quantitative", "scale": {"domain": [0, 0.5], "nice": false}, "axis": {"orient": "left", "values": [0.025,0.05,0.075,0.125,0.15,0.175,0.225,0.25,0.275,0.325,0.35,0.375,0.425,0.45,0.475], "tickSize": -7, "labels": false, "title": null}}}},
    {"mark": {"type": "line", "color": "#e8e8e8", "strokeWidth": 1.2, "strokeDash": [2, 2]}, "encoding": {
      "x": {"field": "yr", "type": "quantitative", "scale": {"domain": [1978.45, 2012.55], "nice": false, "zero": false}, "axis": {"orient": "top", "values": [1980,1990,2000,2010], "tickSize": -13, "labels": false, "title": null}},
      "y": {"field": "hi", "type": "quantitative", "scale": {"domain": [0, 0.5], "nice": false}, "axis": {"orient": "right", "values": [0,0.1,0.2,0.3,0.4,0.5], "tickSize": -13, "labels": false, "title": null}}}},
    {"mark": {"type": "line", "color": "#c9e6ef", "strokeWidth": 1.8}, "encoding": {
      "x": {"field": "yr", "type": "quantitative", "scale": {"domain": [1978.45, 2012.55], "nice": false, "zero": false}, "axis": {"orient": "top", "values": [1979,1981,1982,1983,1984,1985,1986,1987,1988,1989,1991,1992,1993,1994,1995,1996,1997,1998,1999,2001,2002,2003,2004,2005,2006,2007,2008,2009,2011,2012], "tickSize": -7, "labels": false, "title": null}},
      "y": {"field": "cesm", "type": "quantitative", "scale": {"domain": [0, 0.5], "nice": false}, "axis": {"orient": "right", "values": [0.025,0.05,0.075,0.125,0.15,0.175,0.225,0.25,0.275,0.325,0.35,0.375,0.425,0.45,0.475], "tickSize": -7, "labels": false, "title": null}}}},
    {"mark": {"type": "line", "color": "#ff6b6b", "strokeWidth": 2.2}, "encoding": {
      "x": {"field": "yr", "type": "quantitative", "scale": {"domain": [1978.45, 2012.55], "nice": false, "zero": false}, "axis": null},
      "y": {"field": "liv", "type": "quantitative", "scale": {"domain": [0, 0.5], "nice": false}, "axis": null}}}
   ]}
 ]
}
]
}
